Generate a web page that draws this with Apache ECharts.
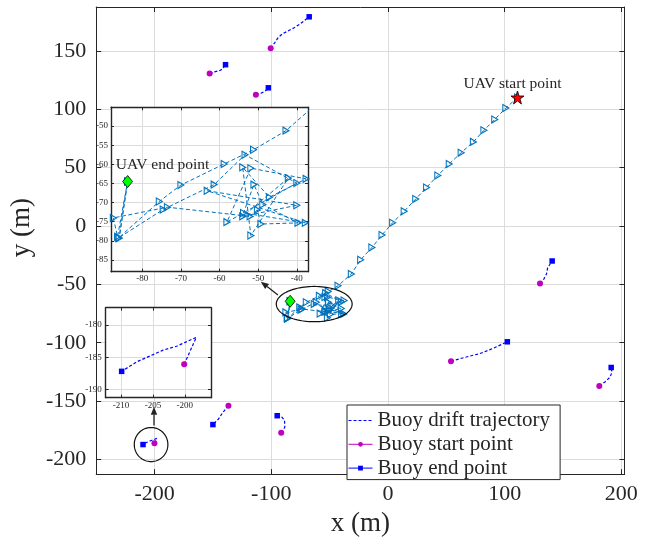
<!DOCTYPE html>
<html><head><meta charset="utf-8">
<script src="https://cdn.jsdelivr.net/npm/echarts@6/dist/echarts.min.js"></script>
<style>html,body{margin:0;padding:0;background:#fff}#c{width:658px;height:542px}</style>
</head><body><div id="c"></div>
<script>
// ---------------- data ----------------
// buoy drift tracks: first point = start, last point = end
const buoy1 = [[-100.5,152.2],[-97.1,156.8],[-94.3,161],[-90.7,164.4],[-86.4,166.6],[-80.8,169.5],[-75.1,173.1],[-70.8,176.5],[-67.5,179.1]];
const buoy2 = [[-152.8,130.5],[-148.6,131.9],[-143.5,133.3],[-141.5,135],[-139.2,138.1]];
const buoy3 = [[-113.2,112.4],[-109,113.6],[-105.3,115.3],[-102.5,118.3]];
const buoy4 = [[130.3,-49.2],[133.4,-45.8],[135.9,-41],[136.8,-35.9],[140.7,-30]];
const buoy5 = [[54,-115.8],[66.1,-112.5],[78.8,-109.3],[90.2,-104.8],[102.3,-99.2]];
const buoy6 = [[181.1,-137],[186.2,-133.4],[190.4,-129.4],[191.9,-125.2],[191.3,-121.2]];
const buoy7 = [[-136.7,-154],[-141.5,-159.7],[-145.2,-165.3],[-150,-170.1]];
const buoy8 = [[-91.5,-177.1],[-88.4,-172.4],[-88.6,-166.7],[-90.7,-163.9],[-94.9,-162.5]];
const buoy9 = [[-200.1,-186.1],[-198.2,-181.9],[-201.3,-183.3],[-203.4,-183.9],[-205.2,-184.7],[-207.5,-185.7],[-209.9,-187.2]];
const buoys = [buoy1,buoy2,buoy3,buoy4,buoy5,buoy6,buoy7,buoy8,buoy9];

// UAV trajectory (start -> end)
const uavPath = [
 [111,110],[101,101],[91.5,91.2],[82.2,81.9],[73.2,72],[62.7,62.7],[52.5,53.1],[42.7,43.2],[33.1,33],
 [23.8,23.1],[13.9,12.6],[4,2.8],[-5.1,-7.7],[-13.8,-18.5],[-23.4,-28.9],[-31.4,-41.1],[-42.8,-51.2],
 [-51.2,-56.2],[-58.8,-59.9],[-70,-65.4],[-75.6,-69.7],[-86.1,-79.2],[-74.6,-71.8],[-61.4,-65.3],
 [-53.4,-57.5],[-40,-64.9],[-58.1,-75.1],[-51.9,-61],[-37.6,-63.8],[-47.1,-68.6],[-54,-60.8],
 [-51.9,-78.6],[-42.2,-63.6],[-54,-73.6],[-40,-70.7],[-63.2,-66.9],[-37.8,-75.3],[-53.8,-72.7],
 [-51.1,-65.3],[-48.8,-70.5],[-39.7,-75.3],[-49.3,-75.6],[-50.2,-71.9],[-52.1,-73.6],[-73.5,-71.2],
 [-87.5,-74],[-86.4,-78.9],[-83.8,-64.5],[-86.0,-79.3],[-83.8,-64.5]
];
const uavStart = [111, 110];
const uavEnd = [-83.8, -64.5];

// axis ranges and tick labels
const mainXRange = [-250, 202.7], mainYRange = [-212.5, 187.5];
const mainXTicks = [-200,-100,0,100,200];
const mainYTicks = [-200,-150,-100,-50,0,50,100,150];
const in1XRange = [-88.1, -37.1], in1YRange = [-88.05, -45.1];
const in1XTicks = [-80,-70,-60,-50,-40];
const in1YTicks = [-85,-80,-75,-70,-65,-60,-55,-50];
const in2XRange = [-212.4, -195.9], in2YRange = [-191.3, -177.3];
const in2XTicks = [-210,-205,-200];
const in2YTicks = [-190,-185,-180];

// ---------------- chart ----------------
const FONT = 'Liberation Serif';
const AX = '#262626';
const GRIDC = '#dcdcdc';
const BUOYC = '#0000ff', STARTC = '#bf00bf', UAVC = '#0072BD';
const TRI = 'path://M0,0L10,5L0,10Z';
const STAR = 'path://M50,0L61.8,35.1L98.1,35.1L68.8,56.8L79.4,90.9L50,69.4L20.6,90.9L31.2,56.8L1.9,35.1L38.2,35.1Z';

function mkAxis(dir, g, pos, rng, step, ticks, o) {
  const main = (pos === 'bottom' || pos === 'left');
  const a = {
    type:'value', gridIndex:g, position:pos, min:rng[0], max:rng[1],
    minInterval:step, maxInterval:step, splitNumber:20, z:o.z,
    axisLine:{show:true, onZero:false, lineStyle:{color:AX, width:o.lw}},
    axisTick:{show:true, inside:true, length:o.tl, lineStyle:{color:AX, width:1}},
    axisLabel:{show:main, margin:o.m, fontFamily:FONT, fontSize:o.fs, color:AX,
      formatter: v => ticks.some(t => Math.abs(t - v) < 1e-6) ? String(Math.round(v)) : ''},
    splitLine:{show:main, lineStyle:{color:GRIDC, width:1}}
  };
  if (o.name && main) {
    a.name = o.name; a.nameLocation = 'middle'; a.nameGap = o.ng;
    a.nameTextStyle = {fontFamily:FONT, fontSize:27, color:AX, padding:o.np || 0};
  }
  return a;
}

const mo = {z:0, lw:1, tl:5, m:6, fs:22};
const io = {z:6, lw:1.4, tl:3, m:2, fs:9};
const xAxis = [
  mkAxis('x',0,'bottom',mainXRange,100,mainXTicks,{...mo, m:9, name:'x (m)', ng:30}),
  mkAxis('x',0,'top',mainXRange,100,mainXTicks,mo),
  mkAxis('x',1,'bottom',in1XRange,10,in1XTicks,io),
  mkAxis('x',1,'top',in1XRange,10,in1XTicks,io),
  mkAxis('x',2,'bottom',in2XRange,5,in2XTicks,{...io, m:3}),
  mkAxis('x',2,'top',in2XRange,5,in2XTicks,io)
];
const yAxis = [
  mkAxis('y',0,'left',mainYRange,50,mainYTicks,{...mo, m:10, name:'y (m)', ng:55, np:[0,0,0,26]}),
  mkAxis('y',0,'right',mainYRange,50,mainYTicks,mo),
  mkAxis('y',1,'left',in1YRange,5,in1YTicks,{...io, m:3}),
  mkAxis('y',1,'right',in1YRange,5,in1YTicks,io),
  mkAxis('y',2,'left',in2YRange,5,in2YTicks,{...io, m:4}),
  mkAxis('y',2,'right',in2YRange,5,in2YTicks,io)
];

const series = [];
function addBuoy(b, xi, yi, z) {
  series.push({name:'Buoy drift trajectory', type:'line', xAxisIndex:xi, yAxisIndex:yi, z:z,
    data:b, symbol:'none', lineStyle:{color:BUOYC, width:1.2, type:[3,2]}, itemStyle:{color:BUOYC}});
  series.push({name:'Buoy start point', type:'line', xAxisIndex:xi, yAxisIndex:yi, z:z+0.1,
    data:[b[0]], symbol:'circle', symbolSize:6, showSymbol:true,
    lineStyle:{color:STARTC, width:1}, itemStyle:{color:STARTC}});
  series.push({name:'Buoy end point', type:'line', xAxisIndex:xi, yAxisIndex:yi, z:z+0.1,
    data:[b[b.length-1]], symbol:'rect', symbolSize:5.5, showSymbol:true,
    lineStyle:{color:BUOYC, width:1}, itemStyle:{color:BUOYC}});
}
buoys.forEach(b => addBuoy(b, 0, 0, 2));
addBuoy(buoy9, 4, 4, 7);

function addUav(xi, yi, z, labelEnd, labelStart) {
  series.push({name:'UAV trajectory'+xi, type:'line', xAxisIndex:xi, yAxisIndex:yi, z:z,
    data:uavPath, symbol:TRI, symbolSize:[6,7], showSymbol:true,
    lineStyle:{color:UAVC, width:1, type:[4,2.5]},
    itemStyle:{color:'rgba(255,255,255,0)', borderColor:UAVC, borderWidth:1.1}});
  series.push({name:'UAV end'+xi, type:'line', xAxisIndex:xi, yAxisIndex:yi, z:z+0.2,
    data:[uavEnd], symbol:'diamond', symbolSize:[10,12], showSymbol:true,
    itemStyle:{color:'#00ff00', borderColor:'#000', borderWidth:0.8},
    label:{show:labelEnd, formatter:'UAV end point', position:'top', distance:2, offset:[35,0],
      fontFamily:FONT, fontSize:15.5, color:AX}});
  if (labelStart) {
    series.push({name:'UAV start', type:'line', xAxisIndex:xi, yAxisIndex:yi, z:z+0.2,
      data:[uavStart], symbol:STAR, symbolSize:13, showSymbol:true,
      itemStyle:{color:'#ff0000', borderColor:'#000', borderWidth:0.8},
      label:{show:true, formatter:'UAV start point', position:'top', distance:-1, offset:[-5,0],
        fontFamily:FONT, fontSize:15.5, color:AX}});
  }
}
addUav(0, 0, 3, false, true);
addUav(2, 2, 7, true, false);

const chart = echarts.init(document.getElementById('c'), null, {renderer:'canvas'});
chart.setOption({
  animation:false,
  backgroundColor:'#fff',
  grid:[
    {left:91, top:7, width:533.5, height:472, z:0},
    {left:111, top:107.3, width:197, height:164.4, show:true, backgroundColor:'#fff', borderWidth:0, z:5},
    {left:105.7, top:307.7, width:105.3, height:90, show:true, backgroundColor:'#fff', borderWidth:0, z:5}
  ],
  xAxis, yAxis, series,
  legend:{
    data:[
      {name:'Buoy drift trajectory', itemStyle:{opacity:0}},
      'Buoy start point','Buoy end point'
    ],
    orient:'vertical', left:347, top:405, padding:[5,10,1,1], itemGap:2.8,
    itemWidth:24, itemHeight:6, backgroundColor:'#fff', borderColor:AX, borderWidth:1,
    textStyle:{fontFamily:FONT, fontSize:21, color:AX},
    lineStyle:{width:1}, itemStyle:{borderWidth:0}, selectedMode:false, z:10
  }
});

// ---------- annotations (ellipse, circle, arrows) ----------
const P = pt => chart.convertToPixel({xAxisIndex:0, yAxisIndex:0}, pt);
function ellipsePts(c, r) {
  const pc = P(c), px = P([c[0]+r[0], c[1]]), py = P([c[0], c[1]+r[1]]);
  const rx = Math.abs(px[0]-pc[0]), ry = Math.abs(py[1]-pc[1]);
  const pts = [];
  for (let i = 0; i < 96; i++) { const t = i/96*2*Math.PI; pts.push([pc[0]+rx*Math.cos(t), pc[1]+ry*Math.sin(t)]); }
  return pts;
}
function arrow(from, to) {
  const a = P(from), b = P(to);
  const dx = b[0]-a[0], dy = b[1]-a[1], L = Math.hypot(dx,dy), ux = dx/L, uy = dy/L;
  const hl = 8, hw = 3.2;
  const base = [b[0]-ux*hl, b[1]-uy*hl];
  return [
    {type:'line', z:8, silent:true, shape:{x1:a[0], y1:a[1], x2:base[0], y2:base[1]}, style:{stroke:'#222', lineWidth:1.3}},
    {type:'polygon', z:8, silent:true, shape:{points:[b, [base[0]-uy*hw, base[1]+ux*hw], [base[0]+uy*hw, base[1]-ux*hw]]}, style:{fill:'#222'}}
  ];
}
const ellipseCenter = [-63.2, -66.9], ellipseRadii = [32.5, 15.1];
const circleCenter = [-203, -187.2], circleRadii = [14.4, 14.6];
chart.setOption({graphic:[
  {type:'polygon', z:8, silent:true, shape:{points:ellipsePts(ellipseCenter, ellipseRadii)}, style:{fill:'none', stroke:'#111', lineWidth:1.2}},
  {type:'polygon', z:8, silent:true, shape:{points:ellipsePts(circleCenter, circleRadii)}, style:{fill:'none', stroke:'#111', lineWidth:1.2}},
  ...arrow([-94.3,-59.1], [-109.0,-47.7]),
  ...arrow([-200.5,-170.9], [-200.5,-154.8])
]});
</script></body></html>
